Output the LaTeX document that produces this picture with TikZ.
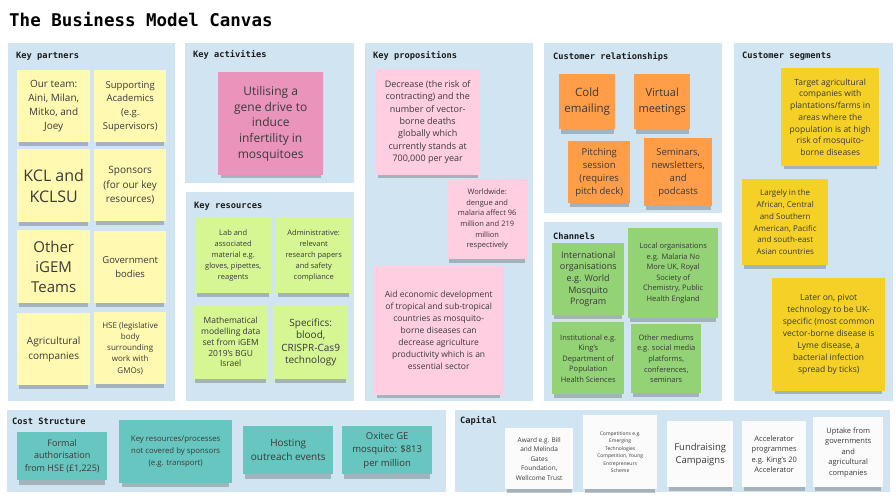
\documentclass[tikz,border=0pt]{standalone}
\usepackage{fontspec}
\setmainfont{Open Sans}
\newfontfamily\canvasmono{DejaVu Sans Mono}
\usetikzlibrary{shadows}
\definecolor{bmcpanel}{HTML}{D0E4F1}
\definecolor{bmctext}{HTML}{3A3A3A}
\definecolor{bmchead}{HTML}{1C1C1C}
\definecolor{bmclightyellow}{HTML}{FFF9B1}
\definecolor{bmcyellow}{HTML}{F5D128}
\definecolor{bmcpink}{HTML}{EA94BB}
\definecolor{bmclightpink}{HTML}{FFCEE0}
\definecolor{bmclightgreen}{HTML}{D5F692}
\definecolor{bmcgreen}{HTML}{93D275}
\definecolor{bmcorange}{HTML}{FF9D48}
\definecolor{bmccyan}{HTML}{67C6C0}
\definecolor{bmcwhite}{HTML}{FBFBFB}
\begin{document}
\begin{tikzpicture}[x=1pt, y=-1pt, every node/.style={text=bmctext},
  head/.style={anchor=west, inner sep=0pt, text=bmchead, font=\canvasmono\bfseries\fontsize{8.7}{10}\selectfont},
  note/.style={fill=#1, anchor=north west, align=center, inner sep=1pt,
    drop shadow={shadow xshift=0pt, shadow yshift=-6pt, shadow scale=0.95, opacity=0.3, fill=black!75}},
  wh/.style 2 args={minimum width=#1pt, minimum height=#2pt},
  fs/.style 2 args={font=\fontsize{#1}{#2}\selectfont}]
  \fill[white] (0,0) rectangle (896,499);
  \useasboundingbox (0,0) rectangle (896,499);
  \node[head, text=black, font=\canvasmono\bfseries\fontsize{17.5}{20}\selectfont] (title) at (9,20) {The Business Model Canvas};

  \fill[bmcpanel] (8,43) rectangle (175,401);
  \fill[bmcpanel] (185,43) rectangle (354,183);
  \fill[bmcpanel] (186,192) rectangle (354,401);
  \fill[bmcpanel] (365,43) rectangle (533,401);
  \fill[bmcpanel] (544,43) rectangle (722,213);
  \fill[bmcpanel] (544,222) rectangle (722,401);
  \fill[bmcpanel] (734,43) rectangle (893,401);
  \fill[bmcpanel] (7,410) rectangle (446,492);
  \fill[bmcpanel] (455,410) rectangle (890,492);

  \node[head] (partners) at (16,56) {Key partners};
  \node[head] (activities) at (193,55) {Key activities};
  \node[head] (resources) at (194,206) {Key resources};
  \node[head] (propositions) at (373,56) {Key propositions};
  \node[head] (relations) at (553,57) {Customer relationships};
  \node[head] (channels) at (553,236) {Channels};
  \node[head] (segments) at (742,56) {Customer segments};
  \node[head] (cost) at (12,421) {Cost Structure};
  \node[head] (capital) at (460,421) {Capital};

  \node[note=bmclightyellow, wh={73}{72}, fs={10}{14}] (team) at (17,70) {Our team:\\Aini, Milan,\\Mitko, and\\Joey};
  \node[note=bmclightyellow, wh={72}{72}, fs={9.5}{13.7}] (academics) at (94,70) {Supporting\\Academics\\(e.g.\\Supervisors)};
  \node[note=bmclightyellow, wh={73}{73}, fs={16}{21}] (kcl) at (17,149) {KCL and\\KCLSU};
  \node[note=bmclightyellow, wh={72}{72}, fs={10}{14.5}] (sponsors) at (94,149) {Sponsors\\(for our key\\resources)};
  \node[note=bmclightyellow, wh={73}{73}, fs={15}{20}] (igem) at (17,230) {Other\\iGEM\\Teams};
  \node[note=bmclightyellow, wh={72}{72}, fs={9.5}{14}] (government) at (94,231) {Government\\bodies};
  \node[note=bmclightyellow, wh={73}{72}, fs={10}{15}] (agricultural) at (17,313) {Agricultural\\companies};
  \node[note=bmclightyellow, wh={72}{72}, fs={8}{11.3}] (hse) at (94,312) {HSE (legislative\\body\\surrounding\\work with\\GMOs)};

  \node[note=bmcpink, wh={105}{103}, fs={12}{15.7}] (genedrive) at (218,72) {Utilising a\\gene drive to\\induce\\infertility in\\mosquitoes};

  \node[note=bmclightgreen, wh={76}{75}, fs={7.5}{11}] (lab) at (195,218) {Lab and\\associated\\material e.g.\\gloves, pipettes,\\reagents};
  \node[note=bmclightgreen, wh={75}{76}, fs={7.5}{11}] (admin) at (276,217) {Administrative:\\relevant\\research papers\\and safety\\compliance};
  \node[note=bmclightgreen, wh={75}{74}, fs={8.5}{10.8}] (modelling) at (193,305) {Mathematical\\modelling data\\set from iGEM\\2019's BGU\\Israel};
  \node[note=bmclightgreen, wh={75}{74}, fs={10}{12.5}] (specifics) at (273,305) {Specifics:\\blood,\\CRISPR-Cas9\\technology};

  \node[note=bmclightpink, wh={105}{106}, fs={9}{12.4}] (decrease) at (375,69) {Decrease (the risk of\\contracting) and the\\number of vector-\\borne deaths\\globally which\\currently stands at\\700,000 per year};
  \node[note=bmclightpink, wh={80}{80}, fs={7.5}{10.7}] (worldwide) at (447,179) {Worldwide:\\dengue and\\malaria affect 96\\million and 219\\million\\respectively};
  \node[note=bmclightpink, wh={129}{129}, fs={8.5}{12}] (economic) at (374,266) {Aid economic development\\of tropical and sub-tropical\\countries as mosquito-\\borne diseases can\\decrease agriculture\\productivity which is an\\essential sector};

  \node[note=bmcorange, wh={56}{55}, fs={11.5}{15.5}] (cold) at (559,74) {Cold\\emailing};
  \node[note=bmcorange, wh={56}{55}, fs={11}{15.5}] (virtual) at (634,74) {Virtual\\meetings};
  \node[note=bmcorange, wh={62}{62}, fs={9.5}{13}] (pitching) at (568,141) {Pitching\\session\\(requires\\pitch deck)};
  \node[note=bmcorange, wh={68}{68}, fs={9.5}{13}] (seminars) at (644,138) {Seminars,\\newsletters,\\and\\podcasts};

  \node[note=bmcgreen, wh={72}{72}, fs={9}{11.7}] (international) at (552,243) {International\\organisations\\e.g. World\\Mosquito\\Program};
  \node[note=bmcgreen, wh={90}{90}, fs={7.5}{10.5}] (local) at (628,228) {Local organisations\\e.g. Malaria No\\More UK, Royal\\Society of\\Chemistry, Public\\Health England};
  \node[note=bmcgreen, wh={72}{72}, fs={7.5}{10.5}] (institutional) at (552,322) {Institutional e.g.\\King's\\Department of\\Population\\Health Sciences};
  \node[note=bmcgreen, wh={70}{69}, fs={7.5}{10.7}] (mediums) at (631,324) {Other mediums\\e.g. social media\\platforms,\\conferences,\\seminars};

  \node[note=bmcyellow, wh={98}{98}, fs={8.5}{11.7}] (target) at (781,68) {Target agricultural\\companies with\\plantations/farms in\\areas where the\\population is at high\\risk of mosquito-\\borne diseases};
  \node[note=bmcyellow, wh={86}{86}, fs={8}{11.7}] (largely) at (742,179) {Largely in the\\African, Central\\and Southern\\American, Pacific\\and south-east\\Asian countries};
  \node[note=bmcyellow, wh={113}{113}, fs={8.5}{12}] (pivot) at (772,278) {Later on, pivot\\technology to be UK-\\specific (most common\\vector-borne disease is\\Lyme disease, a\\bacterial infection\\spread by ticks)};

  \node[note=bmccyan, wh={90}{48}, fs={9}{12.5}] (formal) at (17,432) {Formal\\authorisation\\from HSE (£1,225)};
  \node[note=bmccyan, wh={113}{63}, fs={7.8}{12}] (processes) at (119,420) {Key resources/processes\\not covered by sponsors\\(e.g. transport)};
  \node[note=bmccyan, wh={90}{48}, fs={10}{14}] (hosting) at (243,426) {Hosting\\outreach events};
  \node[note=bmccyan, wh={90}{48}, fs={9.5}{13.5}] (oxitec) at (342,426) {Oxitec GE\\mosquito: \$813\\per million};

  \node[note=bmcwhite, wh={68}{61}, fs={6.5}{9.5}] (award) at (505,428) {Award e.g. Bill\\and Melinda\\Gates\\Foundation,\\Wellcome Trust};
  \node[note=bmcwhite, wh={74}{74}, fs={5}{7.5}] (competitions) at (583,415) {Competitions e.g.\\Emerging\\Technologies\\Competition, Young\\Entrepreneurs\\Scheme};
  \node[note=bmcwhite, wh={66}{66}, fs={9.5}{13}] (fundraising) at (667,421) {Fundraising\\Campaigns};
  \node[note=bmcwhite, wh={64}{66}, fs={7.5}{10.5}] (accelerator) at (742,421) {Accelerator\\programmes\\e.g. King's 20\\Accelerator};
  \node[note=bmcwhite, wh={70}{70}, fs={7.5}{10.5}] (uptake) at (813,417) {Uptake from\\governments\\and\\agricultural\\companies};
\end{tikzpicture}
\end{document}
